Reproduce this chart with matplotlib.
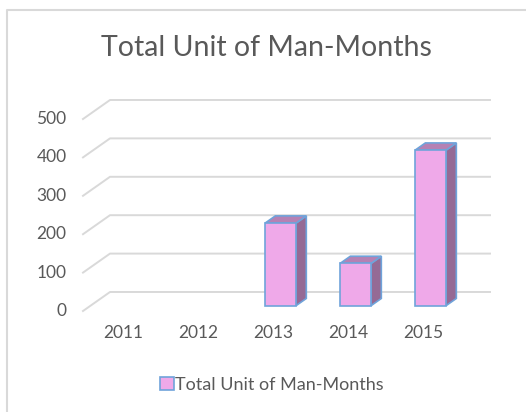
import matplotlib
matplotlib.use("Agg")
import matplotlib.pyplot as plt
from matplotlib.patches import Polygon
from matplotlib.lines import Line2D

# data
years = ["2011", "2012", "2013", "2014", "2015"]
man_months = [0, 0, 215, 110, 405]
y_ticks = [0, 100, 200, 300, 400, 500]

title = "Total Unit of Man-Months"
series_name = "Total Unit of Man-Months"

plt.rcParams["font.family"] = ["Lato", "DejaVu Sans"]
text_color = "#595959"
grid_color = "#D9D9D9"
face_color = "#EFA9E9"
side_color = "#956A95"
top_color = "#B581B4"
edge_color = "#6FA3DA"

W, H = 526, 412
fig = plt.figure(figsize=(W / 100, H / 100), dpi=100)
fig.patch.set_facecolor("white")

# axes covers the front plane of the 3d box
ax = fig.add_axes([83 / W, (H - 311) / H, 380 / W, 192 / H])
x_lo, x_hi = -0.533, 4.533
ax.set_xlim(x_lo, x_hi)
ax.set_ylim(0, 500)
ax.axis("off")

# oblique depth vector (data units) for the whole floor
DX, DY = 0.36, 49.5
d_front, d_depth = 0.28, 0.38
bar_w = 0.413

# gridlines: short diagonal then back wall line
for v in y_ticks:
    ax.plot([x_lo, x_lo + DX, x_hi + DX], [v, v + DY, v + DY],
            color=grid_color, lw=1.4, clip_on=False, zorder=1)

# y labels
for v in y_ticks:
    ax.text(x_lo - 0.22, v, str(v), ha="right", va="center",
            fontsize=12.5, color=text_color)

# x labels
for i, yr in enumerate(years):
    ax.text(i, -58, yr, ha="center", va="center",
            fontsize=12.5, color=text_color)

# bars
base = d_front * DY
xs = [i + d_front * DX for i in range(len(years))]
sx, sy = d_depth * DX, d_depth * DY
for x, v in zip(xs, man_months):
    if v <= 0:
        continue
    xl, xr = x - bar_w / 2, x + bar_w / 2
    top = base + v
    side = Polygon([(xr, base), (xr, top), (xr + sx, top + sy), (xr + sx, base + sy)],
                   closed=True, facecolor=side_color, edgecolor=edge_color,
                   lw=1.2, clip_on=False, zorder=3)
    roof = Polygon([(xl, top), (xr, top), (xr + sx, top + sy), (xl + sx, top + sy)],
                   closed=True, facecolor=top_color, edgecolor=edge_color,
                   lw=1.2, clip_on=False, zorder=3)
    ax.add_patch(side)
    ax.add_patch(roof)

bars = ax.bar([x for x, v in zip(xs, man_months) if v > 0],
              [v for v in man_months if v > 0],
              bottom=base, width=bar_w, color=face_color,
              edgecolor=edge_color, linewidth=1.2, zorder=4,
              label=series_name, clip_on=False)

# title
fig.text(266 / W, 1 - 48 / H, title, ha="center", va="center",
         fontsize=20.5, color=text_color)

# legend
fig.legend(handles=[bars], labels=[series_name], loc="center",
           bbox_to_anchor=(272 / W, 1 - 385 / H), frameon=False,
           fontsize=13, labelcolor=text_color, handlelength=0.75,
           handleheight=0.75, handletextpad=0.1)

# chart area border (only left and top visible)
fig.add_artist(Line2D([6.5 / W, 6.5 / W, 1.02], [-0.02, 1 - 9.5 / H, 1 - 9.5 / H],
                      transform=fig.transFigure, color=grid_color, lw=1.5))

fig.savefig("out.png", dpi=100)
